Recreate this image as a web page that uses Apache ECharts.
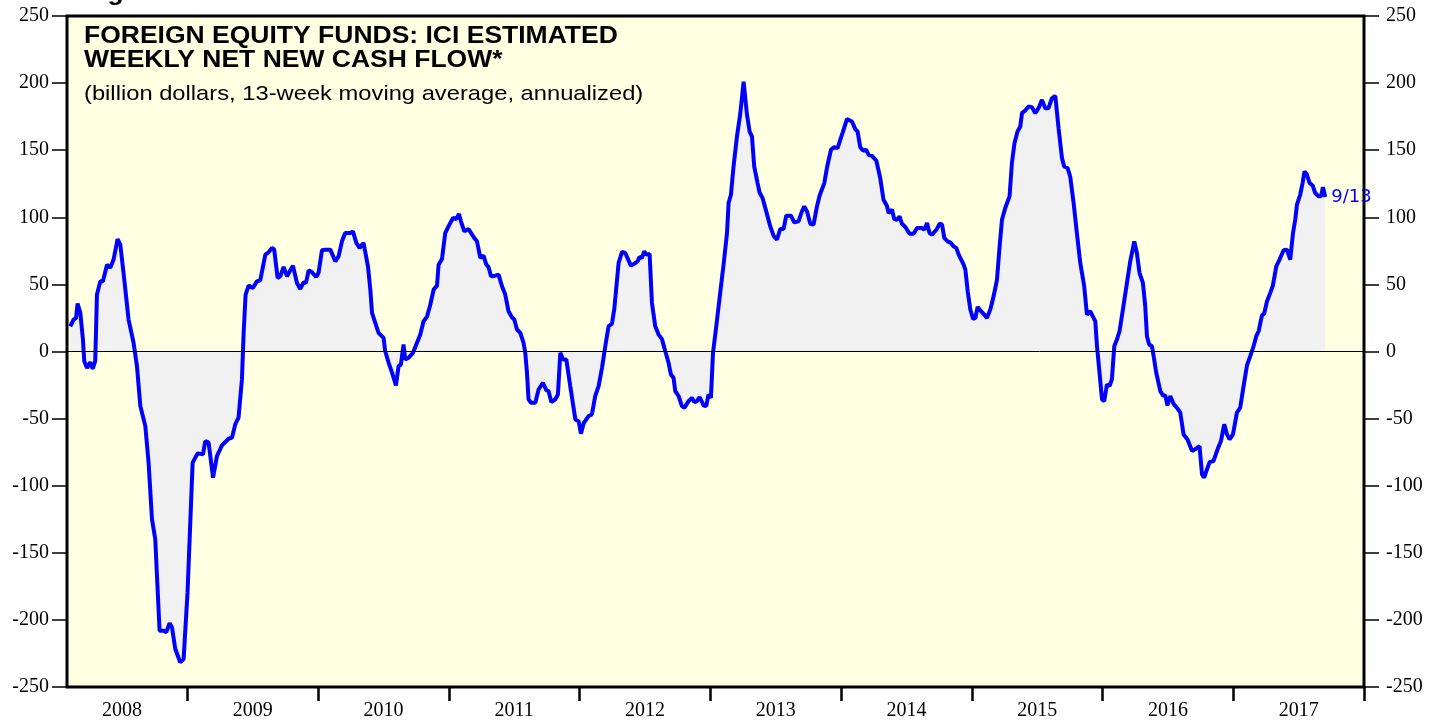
<!DOCTYPE html>
<html>
<head>
<meta charset="utf-8">
<script src="https://cdn.jsdelivr.net/npm/echarts@6/dist/echarts.min.js"></script>
<style>
  html, body { margin: 0; padding: 0; background: #fff; }
  #chart { width: 1439px; height: 721px; }
</style>
</head>
<body>
<div id="chart"></div>
<script>
// week positions as decimal years
const flowYears = [
  2008.105, 2008.130, 2008.149, 2008.161, 2008.182, 2008.202, 2008.212, 2008.233, 2008.258, 2008.276,
  2008.296, 2008.309, 2008.335, 2008.355, 2008.386, 2008.411, 2008.436, 2008.467, 2008.488, 2008.518,
  2008.551, 2008.589, 2008.615, 2008.641, 2008.679, 2008.704, 2008.730, 2008.755, 2008.788, 2008.819,
  2008.839, 2008.865, 2008.883, 2008.908, 2008.946, 2008.972, 2009.002, 2009.041, 2009.079, 2009.120,
  2009.138, 2009.163, 2009.197, 2009.227, 2009.265, 2009.316, 2009.342, 2009.367, 2009.392, 2009.418,
  2009.431, 2009.446, 2009.469, 2009.502, 2009.533, 2009.558, 2009.597, 2009.622, 2009.648, 2009.665,
  2009.691, 2009.711, 2009.737, 2009.763, 2009.783, 2009.808, 2009.839, 2009.864, 2009.889, 2009.908,
  2009.928, 2009.954, 2009.987, 2010.004, 2010.030, 2010.055, 2010.094, 2010.132, 2010.157, 2010.183,
  2010.208, 2010.246, 2010.267, 2010.293, 2010.318, 2010.348, 2010.382, 2010.400, 2010.413, 2010.438,
  2010.463, 2010.501, 2010.514, 2010.540, 2010.566, 2010.596, 2010.616, 2010.634, 2010.654, 2010.667,
  2010.693, 2010.726, 2010.757, 2010.782, 2010.807, 2010.833, 2010.859, 2010.884, 2010.910, 2010.922,
  2010.948, 2010.973, 2010.998, 2011.032, 2011.057, 2011.078, 2011.093, 2011.119, 2011.151, 2011.195,
  2011.216, 2011.241, 2011.266, 2011.287, 2011.304, 2011.323, 2011.356, 2011.381, 2011.407, 2011.432,
  2011.457, 2011.483, 2011.501, 2011.522, 2011.547, 2011.572, 2011.585, 2011.598, 2011.610, 2011.629,
  2011.662, 2011.687, 2011.720, 2011.746, 2011.763, 2011.784, 2011.814, 2011.835, 2011.853, 2011.873,
  2011.899, 2011.929, 2011.968, 2011.993, 2012.011, 2012.031, 2012.069, 2012.095, 2012.120, 2012.146,
  2012.172, 2012.197, 2012.222, 2012.248, 2012.266, 2012.281, 2012.299, 2012.325, 2012.350, 2012.393,
  2012.419, 2012.444, 2012.460, 2012.478, 2012.495, 2012.511, 2012.536, 2012.554, 2012.579, 2012.605,
  2012.630, 2012.656, 2012.681, 2012.699, 2012.719, 2012.732, 2012.758, 2012.783, 2012.803, 2012.834,
  2012.860, 2012.878, 2012.898, 2012.918, 2012.949, 2012.969, 2012.987, 2013.005, 2013.021, 2013.051,
  2013.076, 2013.102, 2013.128, 2013.140, 2013.158, 2013.178, 2013.204, 2013.230, 2013.255, 2013.281,
  2013.301, 2013.319, 2013.336, 2013.362, 2013.377, 2013.400, 2013.428, 2013.459, 2013.484, 2013.510,
  2013.535, 2013.561, 2013.581, 2013.617, 2013.642, 2013.675, 2013.701, 2013.719, 2013.740, 2013.765,
  2013.790, 2013.816, 2013.836, 2013.872, 2013.892, 2013.923, 2013.948, 2013.974, 2013.994, 2014.015,
  2014.045, 2014.084, 2014.109, 2014.127, 2014.147, 2014.168, 2014.193, 2014.211, 2014.237, 2014.270,
  2014.300, 2014.325, 2014.351, 2014.364, 2014.390, 2014.407, 2014.428, 2014.448, 2014.466, 2014.492,
  2014.524, 2014.555, 2014.581, 2014.619, 2014.637, 2014.658, 2014.677, 2014.696, 2014.734, 2014.754,
  2014.773, 2014.790, 2014.815, 2014.841, 2014.862, 2014.882, 2014.900, 2014.938, 2014.951, 2014.969,
  2014.989, 2015.010, 2015.028, 2015.045, 2015.071, 2015.096, 2015.116, 2015.142, 2015.167, 2015.193,
  2015.213, 2015.231, 2015.256, 2015.289, 2015.307, 2015.327, 2015.350, 2015.371, 2015.384, 2015.409,
  2015.434, 2015.460, 2015.486, 2015.511, 2015.537, 2015.562, 2015.587, 2015.613, 2015.639, 2015.664,
  2015.690, 2015.707, 2015.733, 2015.753, 2015.779, 2015.804, 2015.830, 2015.860, 2015.881, 2015.906,
  2015.932, 2015.945, 2015.958, 2015.977, 2015.996, 2016.013, 2016.034, 2016.054, 2016.072, 2016.090,
  2016.110, 2016.130, 2016.156, 2016.187, 2016.212, 2016.243, 2016.263, 2016.283, 2016.309, 2016.327,
  2016.340, 2016.357, 2016.378, 2016.391, 2016.411, 2016.442, 2016.462, 2016.480, 2016.497, 2016.518,
  2016.543, 2016.569, 2016.595, 2016.620, 2016.650, 2016.685, 2016.709, 2016.742, 2016.761, 2016.778,
  2016.799, 2016.819, 2016.849, 2016.880, 2016.906, 2016.931, 2016.952, 2016.972, 2016.998, 2017.028,
  2017.053, 2017.079, 2017.105, 2017.130, 2017.155, 2017.176, 2017.194, 2017.219, 2017.237, 2017.258,
  2017.283, 2017.303, 2017.329, 2017.354, 2017.385, 2017.411, 2017.436, 2017.457, 2017.474, 2017.487,
  2017.512, 2017.530, 2017.545, 2017.564, 2017.584, 2017.609, 2017.627, 2017.652, 2017.671, 2017.686,
  2017.704
]

// net new cash flow, billion dollars, 13-week avg annualized
const flows = [
  18.8, 23.8, 25.0, 35.7, 28.8, 8.9, -7.2, -12.2, -8.0, -12.9,
  -7.2, 42.4, 52.3, 52.3, 64.7, 62.3, 68.5, 83.8, 79.6, 53.6,
  23.8, 6.5, -10.9, -40.7, -55.6, -82.8, -125.0, -139.9, -208.1, -208.1,
  -209.3, -202.4, -205.6, -221.7, -231.6, -229.2, -179.5, -82.8, -75.9, -76.6,
  -66.7, -67.9, -94.0, -77.9, -69.9, -65.0, -64.2, -54.3, -49.3, -20.8,
  13.9, 42.4, 49.1, 47.4, 52.3, 53.1, 72.2, 73.9, 77.2, 75.9,
  54.8, 56.0, 63.0, 56.0, 59.7, 64.0, 51.1, 46.6, 51.6, 51.1,
  60.5, 59.0, 55.6, 58.6, 75.4, 75.9, 75.9, 67.2, 70.9, 82.1,
  88.3, 88.3, 89.5, 80.9, 77.2, 80.9, 63.5, 46.1, 28.8, 21.4,
  13.9, 10.2, 0.2, -8.4, -15.8, -25.3, -10.9, -9.7, 5.2, -6.0,
  -4.7, -1.0, 6.5, 12.6, 22.5, 25.8, 35.0, 46.1, 49.1, 64.7,
  69.0, 88.3, 93.2, 99.5, 98.7, 102.5, 97.0, 89.5, 91.3, 84.6,
  82.1, 69.7, 71.4, 64.7, 63.0, 56.0, 56.5, 57.3, 48.6, 42.4,
  30.0, 25.5, 23.8, 16.4, 13.9, 6.5, -1.0, -15.8, -35.7, -38.2,
  -38.2, -28.3, -23.3, -28.8, -29.5, -37.7, -35.7, -32.0, -1.0, -6.0,
  -6.0, -25.8, -50.6, -51.9, -61.2, -53.6, -48.1, -46.9, -33.2, -25.8,
  -12.2, 3.9, 18.8, 20.8, 31.8, 32.5, 66.0, 74.2, 73.4, 64.0,
  65.5, 67.2, 70.5, 69.7, 74.6, 72.2, 72.7, 36.2, 18.8, 12.6,
  9.4, 0.2, -8.4, -17.1, -19.6, -29.5, -33.2, -40.7, -41.9, -37.0,
  -34.5, -37.7, -37.0, -34.0, -40.2, -40.7, -32.0, -34.5, -1.0, 23.0,
  43.7, 65.0, 88.3, 110.6, 116.8, 137.9, 160.2, 177.6, 201.1, 176.3,
  163.9, 160.2, 137.9, 125.5, 118.5, 114.4, 104.4, 93.2, 86.3, 83.3,
  91.3, 91.3, 101.2, 101.2, 96.2, 97.0, 104.4, 108.1, 104.4, 95.2,
  94.5, 108.1, 116.1, 125.5, 136.7, 150.3, 152.3, 151.5, 157.7, 163.9,
  173.1, 171.4, 165.7, 163.9, 152.3, 149.8, 150.3, 146.6, 145.8, 142.3,
  129.2, 113.1, 108.6, 103.2, 105.7, 98.7, 98.2, 100.7, 95.2, 92.8,
  87.8, 87.8, 92.0, 92.0, 90.8, 95.8, 88.3, 87.1, 91.3, 95.2,
  94.5, 84.6, 82.1, 80.9, 78.3, 77.2, 72.2, 64.7, 61.0, 44.9,
  31.3, 24.3, 25.0, 33.2, 30.0, 27.5, 25.0, 31.3, 41.1, 53.6,
  78.3, 98.2, 106.9, 115.6, 140.4, 155.3, 163.9, 167.6, 177.6, 179.6,
  182.5, 182.1, 177.6, 181.3, 187.5, 181.3, 181.3, 188.7, 190.5, 166.4,
  144.1, 137.9, 136.7, 130.4, 110.6, 88.3, 66.0, 48.6, 27.5, 30.0,
  25.0, 22.5, 3.9, -15.8, -35.7, -37.0, -24.6, -25.8, -20.8, 3.9,
  8.9, 15.1, 31.3, 51.1, 67.2, 82.1, 73.4, 58.6, 51.1, 33.7,
  11.4, 5.2, 3.9, -3.5, -15.8, -29.5, -32.7, -32.7, -40.2, -33.2,
  -39.0, -41.9, -45.6, -61.8, -65.5, -74.2, -72.9, -70.5, -91.5, -94.0,
  -87.8, -82.4, -81.6, -72.9, -66.7, -54.3, -61.8, -65.5, -61.8, -45.6,
  -41.9, -25.8, -10.4, -3.5, 3.9, 11.4, 15.1, 26.8, 28.3, 37.4,
  43.7, 49.1, 63.5, 68.5, 75.4, 75.9, 68.5, 88.3, 98.2, 109.4,
  116.8, 125.5, 134.2, 131.7, 125.5, 123.5, 118.1, 115.6, 115.6, 122.5,
  115.1
]

// 坐标轴刻度
const yearLabels = [2008, 2009, 2010, 2011, 2012, 2013, 2014, 2015, 2016, 2017]
const yearTicks = [2009, 2010, 2011, 2012, 2013, 2014, 2015, 2016, 2017, 2018]
const lastLabel = '9/13'

const serifFont = '"Liberation Serif", "Times New Roman", serif'
const sansFont = '"Liberation Sans", Arial, sans-serif'

function valueAxis(position, margin) {
  return {
    type: 'value',
    position: position,
    min: -250,
    max: 250,
    interval: 50,
    axisLine: { show: false },
    splitLine: { show: false },
    axisTick: { show: true, length: 15, lineStyle: { color: '#000', width: 1.5 } },
    axisLabel: { color: '#000', fontFamily: serifFont, fontSize: 20, margin: margin }
  }
}

// 标题文字 (slightly stretched like the original)
function headText(text, y, size, bold, stretch) {
  return {
    type: 'text',
    x: 84,
    y: y,
    scaleX: stretch,
    style: {
      text: text,
      fontFamily: sansFont,
      fontWeight: bold ? 'bold' : 'normal',
      fontSize: size,
      fill: '#000',
      verticalAlign: 'middle'
    }
  }
}

const chart = echarts.init(document.getElementById('chart'))

const option = {
  backgroundColor: '#ffffff',
  animation: false,
  grid: {
    left: 67,
    right: 75,
    top: 16,
    bottom: 33,
    show: true,
    backgroundColor: '#ffffe2',
    borderColor: '#000',
    borderWidth: 3
  },
  // x轴
  xAxis: {
    type: 'value',
    min: 2008.08,
    max: 2018,
    axisLine: { show: false, onZero: false },
    splitLine: { show: false },
    axisTick: {
      show: true,
      length: 14,
      customValues: yearTicks,
      lineStyle: { color: '#000', width: 2.5 }
    },
    axisLabel: {
      customValues: yearLabels.map(y => y + 0.5),
      formatter: v => String(Math.floor(v)),
      color: '#000',
      fontFamily: serifFont,
      fontSize: 20,
      margin: 14
    }
  },
  // y轴 (both sides)
  yAxis: [valueAxis('left', 18), valueAxis('right', 22)],
  graphic: [
    headText('Figure 6.', -6.5, 24, true, 1.1),
    headText('FOREIGN EQUITY FUNDS: ICI ESTIMATED', 36.6, 24, true, 1.104),
    headText('WEEKLY NET NEW CASH FLOW*', 60, 24, true, 1.104),
    headText('(billion dollars, 13-week moving average, annualized)', 94.2, 21, false, 1.13)
  ],
  // 数据
  series: [
    {
      type: 'line',
      data: flowYears.map((x, i) => [x, flows[i]]),
      showSymbol: false,
      symbol: 'none',
      lineStyle: { color: '#0000ff', width: 4 },
      itemStyle: { color: '#0000ff' },
      areaStyle: { color: '#f1f1f1', opacity: 1 },
      endLabel: {
        show: true,
        formatter: lastLabel,
        color: '#0000ff',
        fontFamily: '"DejaVu Sans", sans-serif',
        fontSize: 18,
        distance: 6
      },
      markLine: {
        silent: true,
        symbol: 'none',
        label: { show: false },
        lineStyle: { color: '#000', width: 1, type: 'solid' },
        data: [{ yAxis: 0 }]
      }
    }
  ]
}

chart.setOption(option)
</script>
</body>
</html>
